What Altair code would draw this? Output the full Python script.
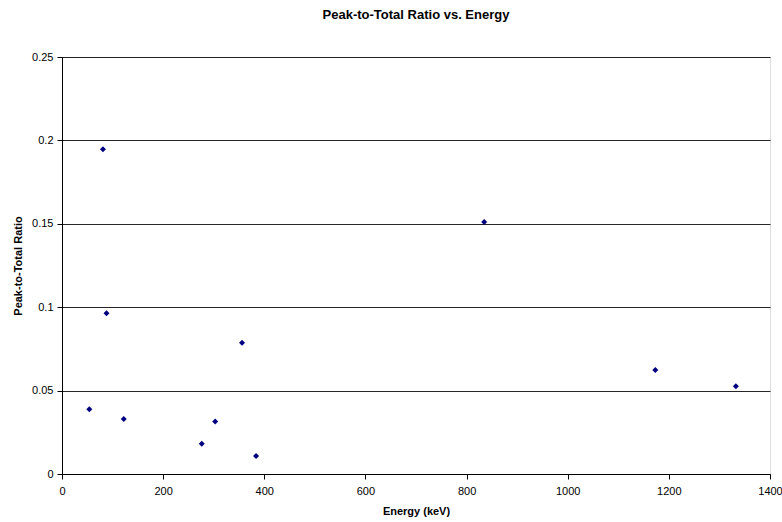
import altair as alt
import pandas as pd

energy = [54.0, 81.0, 88.0, 122.1, 276.4, 302.9, 356.0, 383.8, 834.8, 1173.2, 1332.5]
ratio = [0.0388, 0.1947, 0.0963, 0.0330, 0.0182, 0.0314, 0.0787, 0.0108, 0.1511, 0.0623, 0.0526]

df = pd.DataFrame({"Energy": energy, "Ratio": ratio})

font = "Liberation Sans"

points = alt.Chart(df).mark_point(
    shape="diamond", filled=True, color="#000080", size=36, opacity=1
).encode(
    x=alt.X("Energy:Q", scale=alt.Scale(domain=[0, 1400], nice=False),
            axis=alt.Axis(values=[0, 200, 400, 600, 800, 1000, 1200, 1400], title="Energy (keV)",
                          format="d", grid=False, tickSize=5, labelPadding=6, titlePadding=9,
                          domainColor="black", tickColor="black", labelColor="black",
                          labelFontSize=11, titleFontSize=11, labelFont=font, titleFont=font,
                          titleFontWeight="bold", labelFlush=False)),
    y=alt.Y("Ratio:Q", scale=alt.Scale(domain=[0, 0.25], nice=False),
            axis=alt.Axis(values=[0, 0.05, 0.1, 0.15, 0.2, 0.25], title="Peak-to-Total Ratio",
                          format="~g", grid=True, gridColor="black", gridWidth=1, gridOpacity=0.85,
                          tickSize=5, labelPadding=4, titlePadding=8,
                          domainColor="black", tickColor="black", labelColor="black",
                          labelFontSize=11, titleFontSize=11, labelFont=font, titleFont=font,
                          titleFontWeight="bold", labelFlush=False)),
)

chart = points.properties(
    width=708, height=417,
    autosize=alt.AutoSizeParams(type="none"),
    padding={"left": 62, "top": 57, "right": 12, "bottom": 48},
    title=alt.TitleParams("Peak-to-Total Ratio vs. Energy", font=font, fontSize=13,
                          fontWeight="bold", anchor="middle", offset=29, color="black"),
).configure_view(
    stroke="#999999", strokeWidth=1
).configure(background="white")

chart.save("out.html", embed_options={"renderer": "svg", "actions": False})
